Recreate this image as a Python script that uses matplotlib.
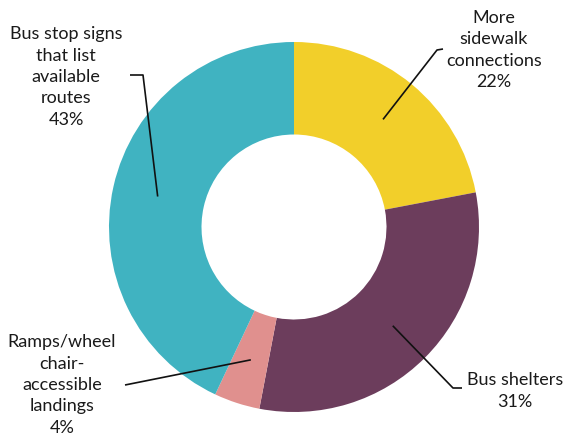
import numpy as np
import matplotlib
matplotlib.use("Agg")
import matplotlib.pyplot as plt

# Survey answers: which bus stop improvement is wanted most
categories = ["More\nsidewalk\nconnections", "Bus shelters",
              "Ramps/wheel\nchair-\naccessible\nlandings",
              "Bus stop signs\nthat list\navailable\nroutes"]
shares = [22, 31, 4, 43]
colors = ["#F2CF2A", "#6C3D5C", "#E0908E", "#40B3C1"]

# label placement (figure pixels, y downward) and leader knee / tail points
label_pos = [(494, 50), (515, 391), (62, 385), (66, 77)]
knee_pos = [(437, 50), (453, 388), (125, 385), (143, 75)]
tail_pos = [(443, 49), (462, 388), (125, 385), (130, 75)]

W, H = 564, 444
fig = plt.figure(figsize=(W / 100, H / 100), dpi=100)
ax = fig.add_axes([0, 0, 1, 1])

cx, cy = 294, H - 227
R = 185
ring = 0.5

wedges, _ = ax.pie(shares, colors=colors, startangle=90, counterclock=False,
                   radius=R, center=(cx, cy),
                   wedgeprops=dict(width=R * ring, edgecolor="none"))
ax.set_xlim(0, W)
ax.set_ylim(0, H)
ax.set_aspect("equal")
ax.axis("off")

start = 90.0
total = sum(shares)
for i, (cat, val) in enumerate(zip(categories, shares)):
    span = 360.0 * val / total
    mid = np.deg2rad(start - span / 2)
    start -= span
    r_anchor = R * 0.755
    ax_pt = (cx + r_anchor * np.cos(mid), cy + r_anchor * np.sin(mid))
    kx, ky = knee_pos[i]
    tx, ty = tail_pos[i]
    ax.plot([ax_pt[0], kx, tx], [ax_pt[1], H - ky, H - ty],
            color="#111111", lw=1.2, solid_capstyle="butt")
    lx, ly = label_pos[i]
    ax.text(lx, H - ly, f"{cat}\n{val}%", ha="center", va="center",
            fontsize=13, color="#1a1a1a", linespacing=1.42,
            family=["Lato", "DejaVu Sans"])

fig.savefig("out.png", dpi=100, facecolor="white")
